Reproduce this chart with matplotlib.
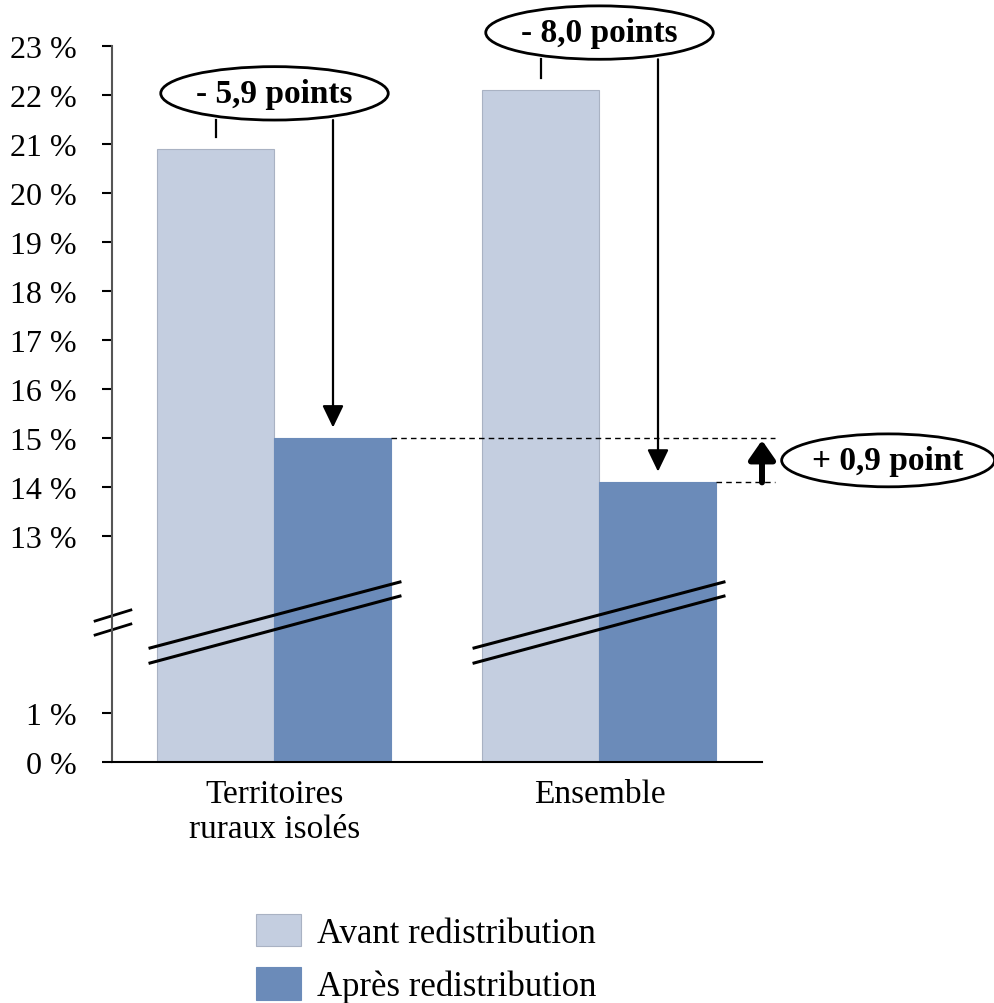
import numpy as np
import matplotlib
matplotlib.use("Agg")
import matplotlib.pyplot as plt
from matplotlib.patches import Ellipse, Patch

# Données
categories = ["Territoires\nruraux isolés", "Ensemble"]
avant = [20.9, 22.1]
apres = [15.0, 14.1]
ecarts = ["- 5,9 points", "- 8,0 points"]
ecart_ensemble = "+ 0,9 point"
series = ["Avant redistribution", "Après redistribution"]
yticks = [0, 1, 13, 14, 15, 16, 17, 18, 19, 20, 21, 22, 23]

c_avant = "#C4CEE0"
c_apres = "#6B8BB9"
police = "Liberation Serif"
plt.rcParams["font.family"] = [police, "DejaVu Serif"]

# Échelle coupée entre 1 % et 13 %
BRK = 4.606


def fwd(v):
    v = np.asarray(v, dtype=float)
    return np.where(v <= 1, v,
                    np.where(v >= 13, v - 13 + BRK, 1 + (v - 1) * (BRK - 1) / 12))


def inv(d):
    d = np.asarray(d, dtype=float)
    return np.where(d <= 1, d,
                    np.where(d >= BRK, d + 13 - BRK, 1 + (d - 1) * 12 / (BRK - 1)))


fig = plt.figure(figsize=(9.95, 10.04), dpi=100)
ax = fig.add_axes([112 / 995, 1 - 763 / 1004, 650 / 995, 715.7 / 1004])
ax.set_yscale("function", functions=(fwd, inv))

x = np.arange(len(categories))
w = 0.36
ax.bar(x - w / 2, avant, w, color=c_avant, edgecolor="#A9B2C3", linewidth=0.8)
ax.bar(x + w / 2, apres, w, color=c_apres, edgecolor=c_apres, linewidth=0.8)

ax.set_xlim(-0.5, 1.5)
ax.set_ylim(0, 23)
ax.set_yticks(yticks)
ax.set_yticklabels([f"{v} %" for v in yticks], fontsize=23)
ax.set_xticks(x)
ax.set_xticklabels(categories, fontsize=24, linespacing=1.2)
ax.tick_params(axis="y", direction="out", length=7.2, width=1.5, pad=18, color="black")
ax.tick_params(axis="x", length=0, pad=12)
for s in ["top", "right"]:
    ax.spines[s].set_visible(False)
ax.spines["left"].set_color("#555555")
ax.spines["left"].set_linewidth(1.5)
ax.spines["bottom"].set_linewidth(1.5)

# Marques de coupure
for y0, y1 in [(0.197, 0.2124), (0.1774, 0.1928)]:
    ax.plot([-0.026, 0.029], [y0, y1], transform=ax.transAxes, color="black",
            lw=2, clip_on=False)
for xa, xb in [(0.0585, 0.443), (0.557, 0.9415)]:
    ax.plot([xa, xb], [0.1593, 0.2515], transform=ax.transAxes, color="black",
            lw=2.2, clip_on=False)
    ax.plot([xa, xb], [0.1383, 0.2318], transform=ax.transAxes, color="black",
            lw=2.2, clip_on=False)

# Bulles des écarts
centres_y = [22.04, 23.28]
for i in range(len(categories)):
    cy = centres_y[i]
    ax.add_patch(Ellipse((x[i], cy), 0.70, 1.09, facecolor="white",
                         edgecolor="black", lw=2, clip_on=False, zorder=5))
    ax.text(x[i], cy, ecarts[i], ha="center", va="center", fontsize=24,
            fontweight="bold", zorder=6)
    bas = cy - 0.545
    ax.plot([x[i] - w / 2, x[i] - w / 2], [avant[i] + 0.25, bas], color="black",
            lw=1.6, clip_on=False)
    ax.annotate("", xy=(x[i] + w / 2, apres[i] + 0.22), xytext=(x[i] + w / 2, bas),
                arrowprops=dict(arrowstyle="-|>,head_length=1.35,head_width=0.65",
                                mutation_scale=10, lw=1.6, color="black",
                                shrinkA=0, shrinkB=0),
                annotation_clip=False)

# Écart entre les deux barres "après"
ax.plot([x[0] + w, 1.54], [apres[0], apres[0]], color="black", lw=1,
        ls=(0, (4, 3)), clip_on=False)
ax.plot([x[1] + w, 1.54], [apres[1], apres[1]], color="black", lw=1,
        ls=(0, (4, 3)), clip_on=False)
ax.annotate("", xy=(1.5, apres[0] - 0.04), xytext=(1.5, apres[1]),
            arrowprops=dict(arrowstyle="-|>,head_length=1.15,head_width=0.8",
                            mutation_scale=10, lw=4.3, color="black",
                            shrinkA=0, shrinkB=0),
            annotation_clip=False)
cy3 = (apres[0] + apres[1]) / 2
ax.add_patch(Ellipse((1.888, cy3), 0.655, 1.08, facecolor="white",
                     edgecolor="black", lw=2, clip_on=False, zorder=5))
ax.text(1.888, cy3, ecart_ensemble, ha="center", va="center", fontsize=24,
        fontweight="bold", zorder=6)

# Légende
handles = [Patch(facecolor=c_avant, edgecolor="#A9B2C3", lw=0.8),
           Patch(facecolor=c_apres, edgecolor=c_apres, lw=0.8)]
fig.legend(handles, series, loc="upper left", bbox_to_anchor=(256 / 995, 1 - 915 / 1004),
           frameon=False, fontsize=25, handlelength=1.3, handleheight=1.05,
           handletextpad=0.45, labelspacing=0.5, borderpad=0, borderaxespad=0)

fig.savefig("out.png", dpi=100)
